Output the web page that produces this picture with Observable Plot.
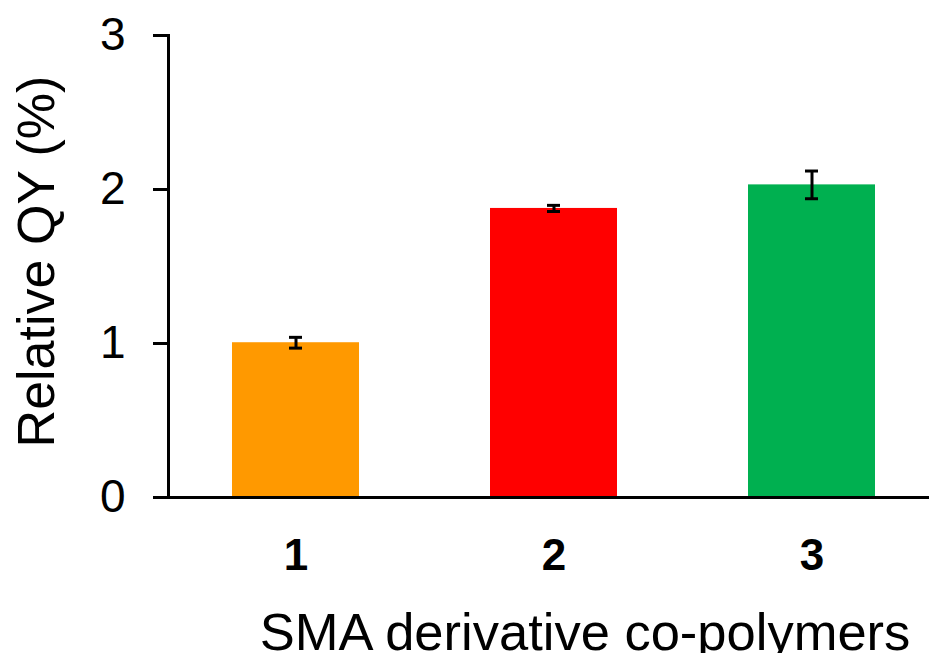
<!DOCTYPE html>
<html>
<head>
<meta charset="utf-8">
<script src="https://cdn.jsdelivr.net/npm/d3@7"></script>
<script src="https://cdn.jsdelivr.net/npm/@observablehq/plot@0.6"></script>
<style>
  html, body { margin: 0; padding: 0; background: #fff; }
  svg { display: block; }
</style>
</head>
<body>
<div id="chart"></div>
<script>
const categories = ["1", "2", "3"];
const values = [1.005, 1.877, 2.03];
const errors = [0.035, 0.02, 0.09];
const colors = ["#FF9900", "#FF0000", "#00B050"];
const yTicks = [0, 1, 2, 3];
const yLabel = "Relative QY (%)";
const xLabel = "SMA derivative co-polymers";

const data = categories.map((c, i) => ({cat: c, v: values[i], e: errors[i], color: colors[i]}));
const font = "'Liberation Sans', Arial, sans-serif";

const chart = Plot.plot({
  width: 929,
  height: 653,
  marginLeft: 168,
  marginRight: 0,
  marginTop: 35,
  marginBottom: 156,
  style: {fontFamily: font, background: "#fff", overflow: "visible"},
  x: {domain: categories, range: [167, 939], paddingInner: 0.508, paddingOuter: 0.25, axis: null},
  y: {domain: [0, 3], axis: null},
  marks: [
    Plot.barY(data, {x: "cat", y: "v", fill: "color"}),
    Plot.ruleX(data, {x: "cat", y1: d => d.v - d.e, y2: d => d.v + d.e, stroke: "#000", strokeWidth: 3}),
    Plot.tickY(data, {x: "cat", y: d => d.v - d.e, stroke: "#000", strokeWidth: 3, insetLeft: 57, insetRight: 57}),
    Plot.tickY(data, {x: "cat", y: d => d.v + d.e, stroke: "#000", strokeWidth: 3, insetLeft: 57, insetRight: 57}),
    Plot.frame({anchor: "left", stroke: "#000", strokeWidth: 3}),
    Plot.ruleY([0], {stroke: "#000", strokeWidth: 3}),
    Plot.axisY({ticks: yTicks, tickSize: 15, tickPadding: 28, tickFormat: d => String(d), fontSize: 46, strokeWidth: 3, stroke: "#000", fill: "#000", label: null}),
    Plot.axisX({tickSize: 0, tickPadding: 41, fontSize: 44, fontWeight: "bold", fill: "#000", label: null}),
    Plot.text([yLabel], {frameAnchor: "left", textAnchor: "middle", rotate: -90, lineAnchor: "bottom", dx: -115, dy: -5, fontSize: 52, fill: "#000"}),
    Plot.text([xLabel], {frameAnchor: "bottom", textAnchor: "middle", lineAnchor: "bottom", dx: 36, dy: 152, fontSize: 52.5, fill: "#000"})
  ]
});
document.getElementById("chart").append(chart);
</script>
</body>
</html>
